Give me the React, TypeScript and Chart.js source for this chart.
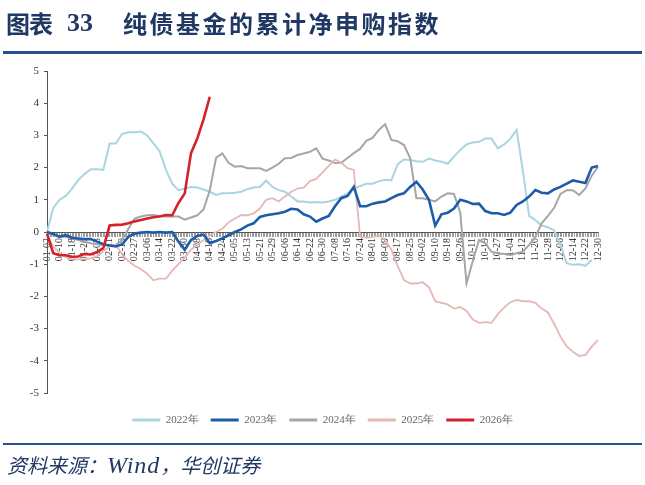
import React, { useEffect, useRef } from 'react';
import { Chart, registerables } from 'chart.js';

Chart.register(...registerables);

// ---- axis categories (month-day union axis) ----
const FIRST_DAY = '01-02';
const LAST_DAY = '12-30';
const SKIPPED_DAYS = ['04-04', '05-01', '05-02', '05-03', '10-01', '10-02', '10-03', '10-04', '10-05', '10-06', '10-07'];
const LABEL_EVERY = 8; // a tick label every 8 positions
const SAMPLE_EVERY = 4; // series values below are read every 4 positions

const Y_TICKS_MIN = -5;
const Y_TICKS_MAX = 5;

const SERIES_NAMES = ['2022年', '2023年', '2024年', '2025年', '2026年'];
const SERIES_COLORS = ['#a9d5e0', '#1d5ca8', '#a6a6a6', '#e5b7b6', '#d3222a'];

// ---- series values ----
const y2022 = [
  0, 0.75, 1.0, 1.12, 1.35, 1.62, 1.8, 1.95, 1.95, 1.93,
  2.75, 2.75, 3.05, 3.1, 3.1, 3.12, 3.0, 2.75, 2.5, 1.93,
  1.5, 1.3, 1.35, 1.4, 1.38, 1.32, 1.25, 1.15, 1.2, 1.2,
  1.22, 1.25, 1.33, 1.38, 1.4, 1.6, 1.4, 1.3, 1.25, 1.1,
  0.95, 0.95, 0.92, 0.93, 0.92, 0.95, 1.0, 1.1, 1.2, 1.35,
  1.42, 1.5, 1.5, 1.58, 1.62, 1.6, 2.1, 2.25, 2.24, 2.2,
  2.18, 2.28, 2.22, 2.18, 2.12, 2.34, 2.55, 2.72, 2.78, 2.8,
  2.9, 2.9, 2.6, 2.72, 2.9, 3.17, 1.9, 0.5, 0.37, 0.2,
  0.15, 0.05, -0.4, -0.97, -1.02, -1.0, -1.05, -0.87,
];
const y2023 = [
  0, -0.06, -0.15, -0.1, -0.18, -0.2, -0.22, -0.22, -0.3, -0.38,
  -0.42, -0.45, -0.38, -0.15, -0.05, -0.02, 0, -0.02, 0, -0.02,
  0, -0.3, -0.55, -0.25, -0.12, -0.08, -0.35, -0.28, -0.2, -0.1,
  0.0, 0.08, 0.2, 0.27, 0.47, 0.52, 0.55, 0.58, 0.63, 0.72,
  0.7, 0.55, 0.48, 0.32, 0.42, 0.5, 0.8, 1.05, 1.12, 1.4,
  0.8, 0.8, 0.88, 0.92, 0.95, 1.05, 1.15, 1.2, 1.4, 1.56,
  1.32, 1.0, 0.2, 0.55, 0.6, 0.73, 1.0, 0.95, 0.87, 0.88,
  0.65, 0.58, 0.58, 0.53, 0.6, 0.84, 0.95, 1.1, 1.3, 1.22,
  1.2, 1.32, 1.4, 1.5, 1.6, 1.56, 1.52, 2.0, 2.05,
];
const y2024 = [
  0, -0.1, -0.12, -0.15, -0.2, -0.25, -0.3, -0.35, -0.38, -0.4,
  -0.42, -0.4, -0.25, 0.1, 0.42, 0.48, 0.52, 0.53, 0.5, 0.48,
  0.48, 0.48, 0.38, 0.45, 0.52, 0.7, 1.3, 2.3, 2.44, 2.15,
  2.03, 2.05, 1.98, 1.98, 1.98, 1.9, 2.0, 2.12, 2.29, 2.3,
  2.39, 2.44, 2.49, 2.6, 2.28, 2.22, 2.14, 2.15, 2.3, 2.45,
  2.58, 2.83, 2.92, 3.17, 3.35, 2.86, 2.82, 2.7, 2.3, 1.05,
  1.05, 1.0, 0.95, 1.1, 1.2, 1.18, 0.6, -1.6, -0.9, -0.25,
  -0.35, -0.62, -0.66, -0.68, -0.71, -0.66, -0.61, -0.4, -0.15, 0.27,
  0.5, 0.75, 1.18, 1.3, 1.3, 1.15, 1.35, 1.75, 2.02,
];
const y2025 = [
  -0.1, -0.45, -0.65, -0.78, -0.85, -0.85, -0.85, -0.82, -0.75, -0.6,
  -0.45, -0.4, -0.7, -0.9, -1.05, -1.15, -1.3, -1.5, -1.45, -1.45,
  -1.2, -1.0, -0.8, -0.55, -0.4, -0.25, -0.1, 0.0, 0.1, 0.3,
  0.42, 0.52, 0.52, 0.58, 0.73, 1.0, 1.05, 0.95, 1.1, 1.25,
  1.35, 1.38, 1.58, 1.65, 1.85, 2.05, 2.25, 2.15, 1.98, 1.93,
  -0.14, -0.18, -0.15, -0.1, -0.25, -0.55, -1.05, -1.49, -1.6, -1.6,
  -1.56, -1.72, -2.15, -2.2, -2.25, -2.38, -2.33, -2.45, -2.72, -2.82,
  -2.8, -2.82, -2.55, -2.35, -2.18, -2.11, -2.15, -2.15, -2.2, -2.38,
  -2.5, -2.85, -3.25, -3.55, -3.72, -3.85, -3.82, -3.56, -3.35,
];
const y2026 = [
  -0.05, -0.66, -0.72, -0.72, -0.77, -0.76, -0.68, -0.7, -0.62, -0.5,
  0.2, 0.22, 0.23, 0.27, 0.33, 0.37, 0.42, 0.46, 0.48, 0.53,
  0.52, 0.9, 1.2, 2.45, 2.9, 3.5, 4.2,
];

const SERIES_VALUES = [y2022, y2023, y2024, y2025, y2026];
const SERIES_WIDTHS = [2, 2.6, 2, 1.8, 2.6];
const SERIES_ORDER = [5, 2, 4, 3, 1];

function buildDays(): string[] {
  const out: string[] = [];
  const d = new Date(Date.UTC(2024, 0, 1));
  while (d.getUTCFullYear() === 2024) {
    const s =
      String(d.getUTCMonth() + 1).padStart(2, '0') + '-' + String(d.getUTCDate()).padStart(2, '0');
    if (s >= FIRST_DAY && s <= LAST_DAY && !SKIPPED_DAYS.includes(s)) out.push(s);
    d.setUTCDate(d.getUTCDate() + 1);
  }
  return out;
}

const SERIF = '"Liberation Serif", "Times New Roman", serif';
const CJK = '"Noto Sans CJK SC", sans-serif';
const NAVY = '#1f3864';
const RULE = '#26508f';

export default function App() {
  const canvasRef = useRef<HTMLCanvasElement | null>(null);

  useEffect(() => {
    const days = buildDays();
    const datasets = SERIES_NAMES.map((name, si) => ({
      label: name,
      data: SERIES_VALUES[si].map((v, i) => ({ x: days[i * SAMPLE_EVERY], y: v })),
      borderColor: SERIES_COLORS[si],
      backgroundColor: SERIES_COLORS[si],
      borderWidth: SERIES_WIDTHS[si],
      pointRadius: 0,
      pointHoverRadius: 0,
      tension: 0,
      fill: false,
      order: SERIES_ORDER[si],
    }));

    const chart = new Chart(canvasRef.current as HTMLCanvasElement, {
      type: 'line',
      data: { labels: days, datasets },
      options: {
        responsive: false,
        animation: false,
        devicePixelRatio: 1,
        layout: { padding: { left: 16, right: 47, top: 71, bottom: 49.5 } },
        plugins: {
          tooltip: { enabled: false },
          legend: {
            position: 'bottom',
            fullSize: false,
            title: { display: true, text: ' ', font: { size: 1, lineHeight: 1 }, padding: { top: 8.5, bottom: 0 } },
            labels: {
              boxWidth: 28,
              boxHeight: 3,
              padding: 12,
              color: '#222',
              font: { family: SERIF, size: 11 },
              generateLabels: () =>
                SERIES_NAMES.map((n, i) => ({
                  text: n,
                  fillStyle: SERIES_COLORS[i],
                  strokeStyle: SERIES_COLORS[i],
                  lineWidth: 0,
                  hidden: false,
                  datasetIndex: i,
                })),
            },
          },
        },
        scales: {
          x: {
            type: 'category',
            position: { y: 0 } as any,
            grid: {
              display: true,
              drawOnChartArea: false,
              drawTicks: true,
              tickLength: 4,
              color: '#5a5a5a',
              lineWidth: 0.6,
            },
            border: { display: true, color: '#555', width: 1 },
            ticks: {
              autoSkip: false,
              maxRotation: 90,
              minRotation: 90,
              padding: 2,
              color: '#333',
              font: { family: SERIF, size: 10 },
              callback: (_v: any, i: number) => (i % LABEL_EVERY === 0 ? days[i] : ''),
            },
          },
          y: {
            min: Y_TICKS_MIN,
            max: Y_TICKS_MAX,
            position: 'left',
            afterFit: (s: any) => {
              s.width = 31;
            },
            grid: { display: true, drawOnChartArea: false, drawTicks: true, tickLength: 3, color: '#555' },
            border: { display: true, color: '#555', width: 1 },
            ticks: {
              stepSize: 1,
              padding: 5,
              color: '#333',
              font: { family: SERIF, size: 11 },
            },
          },
        },
      },
    });
    return () => chart.destroy();
  }, []);

  return (
    <div style={{ position: 'absolute', left: 0, top: 0, width: 645, height: 485, background: '#fff', overflow: 'hidden' }}>
      <canvas ref={canvasRef} width={645} height={485} style={{ position: 'absolute', left: 0, top: 0, width: 645, height: 485 }} />
      <div style={{ position: 'absolute', left: 6, top: 10, fontFamily: CJK, fontWeight: 700, fontSize: 24, lineHeight: '25px', letterSpacing: -1, color: NAVY, whiteSpace: 'nowrap' }}>图表</div>
      <div style={{ position: 'absolute', left: 67, top: 10, fontFamily: SERIF, fontWeight: 700, fontSize: 26, lineHeight: '26px', color: NAVY, whiteSpace: 'nowrap' }}>33</div>
      <div style={{ position: 'absolute', left: 123, top: 10, fontFamily: CJK, fontWeight: 700, fontSize: 24, lineHeight: '25px', letterSpacing: 2.5, color: NAVY, whiteSpace: 'nowrap' }}>纯债基金的累计净申购指数</div>
      <div style={{ position: 'absolute', left: 3, top: 51, width: 639, height: 3, background: RULE }} />
      <div style={{ position: 'absolute', left: 3, top: 443, width: 639, height: 2, background: RULE }} />
      <div style={{ position: 'absolute', left: 7, top: 454, fontFamily: CJK, fontStyle: 'italic', fontSize: 20, lineHeight: '22px', color: NAVY, whiteSpace: 'nowrap' }}>
        资料来源：<span style={{ fontFamily: SERIF, fontSize: 24, letterSpacing: 1 }}>Wind</span>，华创证券
      </div>
    </div>
  );
}
